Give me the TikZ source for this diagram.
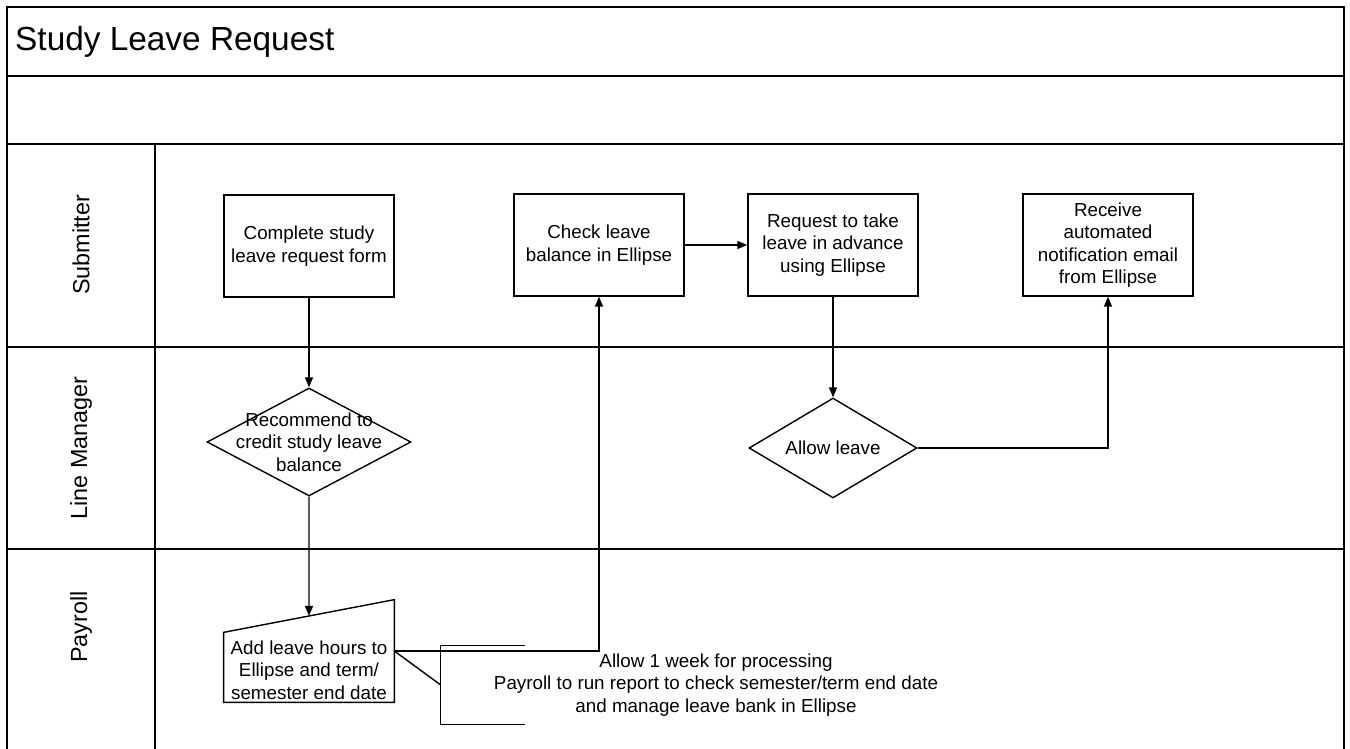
\documentclass[tikz,border=0pt]{standalone}
\usepackage{fontspec}
\setmainfont{Liberation Sans}
\usetikzlibrary{shapes.geometric,arrows.meta,calc}
\begin{document}
\begin{tikzpicture}[x=0.02cm,y=-0.02cm,>={Triangle[length=2mm,width=1.6mm]},
	font=\fontsize{10.7}{12.8}\selectfont,
	box/.style={draw,line width=0.8pt,minimum width=3.4cm,minimum height=2.04cm,align=center,inner sep=2pt},
	choice/.style={draw,diamond,line width=0.8pt,inner sep=0pt},
	lane/.style={rotate=90,font=\fontsize{13.3}{15}\selectfont},
	frame/.style={line width=1.1pt},
	link/.style={->,line width=0.8pt}]
		\useasboundingbox (0,0) rectangle (1350,749);
		\draw[frame] (7,749)--(7,7)--(1344,7)--(1344,749);
		\foreach \y in {76,144,347,549}\draw[frame] (7,\y)--(1344,\y);
		\draw[frame] (155,144)--(155,749);
		\node[anchor=west,font=\fontsize{19}{22}\selectfont] (title) at (9,42) {Study Leave Request};
		\node[lane] (submitter) at (81,245) {Submitter};
		\node[lane] (manager) at (81,448) {Line Manager};
		\node[lane] (payroll) at (81,627) {Payroll};
		\node[box] (complete) at (309,246) {Complete study\\leave request form};
		\node[box] (check) at (599,245) {Check leave\\balance in Ellipse};
		\node[box] (request) at (833,245) {Request to take\\leave in advance\\using Ellipse};
		\node[box] (receive) at (1108,245) {Receive\\automated\\notification email\\from Ellipse};
		\node[choice,minimum width=4.08cm,minimum height=2.16cm,label={[align=center]center:Recommend to\\credit study leave\\balance}] (recommend) at (309,442) {};
		\node[choice,minimum width=3.36cm,minimum height=2cm,label={center:Allow leave}] (allow) at (833,448) {};
		\node[minimum width=3.4cm,minimum height=2.04cm,inner sep=0pt,label={[align=center,yshift=-0.38cm]center:Add leave hours to\\Ellipse and term/\\semester end date}] (add) at (309,651) {};
		\draw[line width=0.8pt] (add.south west)--++(0,-70)--(add.north east)--(add.south east)--cycle;
		\coordinate (addcorner) at ($(add.south west)+(0,-70)$);
		\coordinate (addtop) at ($(addcorner)!0.5!(add.north east)$);
		\node[minimum width=11cm,minimum height=1.56cm,align=center,inner sep=0pt] (note) at (716,685) {Allow 1 week for processing\\Payroll to run report to check semester/term end date\\and manage leave bank in Ellipse};
		\draw[line width=0.8pt] ([xshift=1.68cm]note.north west)--(note.north west)--(note.south west)--([xshift=1.68cm]note.south west);
		\draw[line width=0.8pt] (add.east)--(note.west);
		\draw[link] (complete)--(recommend);
		\draw[link] (recommend.south)--(addtop);
		\draw[link] (add.east)-|(check.south);
		\draw[link] (check)--(request);
		\draw[link] (request)--(allow);
		\draw[link] (allow.east)-|(receive.south);
\end{tikzpicture}
\end{document}
